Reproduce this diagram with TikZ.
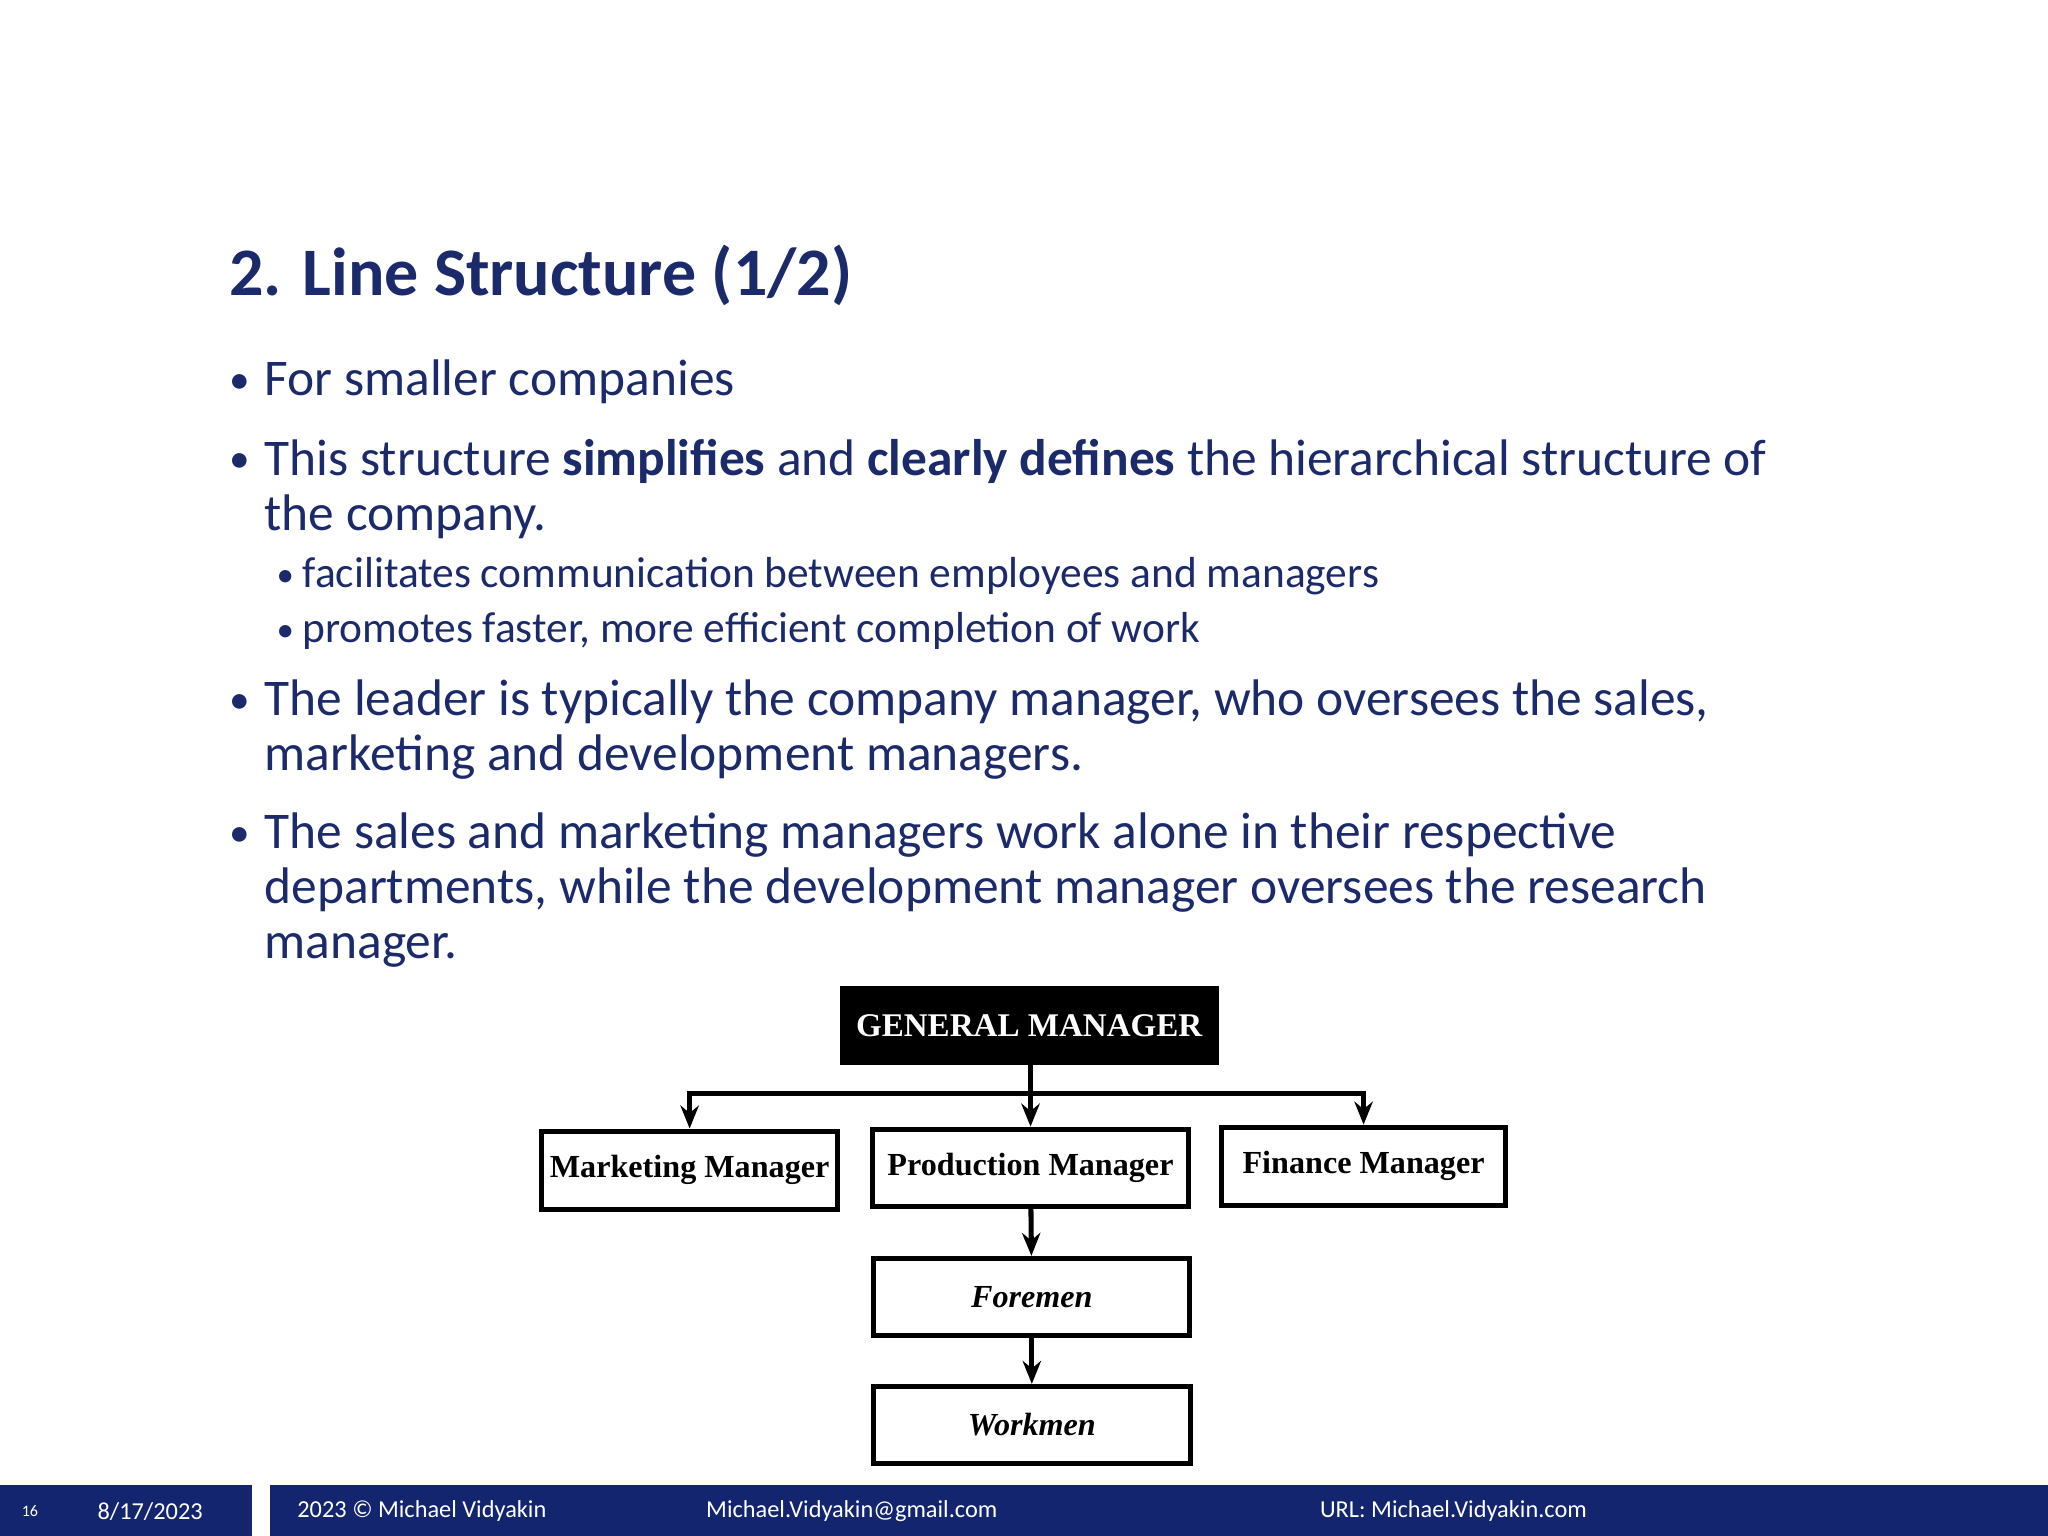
\documentclass[tikz,border=0pt]{standalone}
\usepackage{fontspec}
\setmainfont{Carlito}
\newfontfamily\tms{Liberation Serif}
\usetikzlibrary{arrows.meta}
\definecolor{navy}{HTML}{1B2A6B}
\definecolor{bar}{HTML}{13256E}
\tikzset{
 txt/.style={anchor=base west,inner sep=0,text=navy,font=\fontsize{11.2pt}{12pt}\selectfont},
 bul/.style={anchor=base west,inner sep=0,text=navy,font=\fontsize{9pt}{10pt}\selectfont},
 sub/.style={anchor=base west,inner sep=0,text=navy,font=\fontsize{9.45pt}{11pt}\selectfont},
 sbul/.style={anchor=base west,inner sep=0,text=navy,font=\fontsize{7.6pt}{9pt}\selectfont},
 org/.style={draw,line width=1.1pt,inner sep=0,font=\tms\bfseries\fontsize{7pt}{9pt}\selectfont},
 conn/.style={line width=1.1pt,-{Stealth[length=5pt,width=4pt]}},
 foot/.style={anchor=base west,inner sep=0,text=white,font=\fontsize{5.3pt}{6pt}\selectfont}
}
\begin{document}
\begin{tikzpicture}[x=0.01cm,y=-0.01cm]
\useasboundingbox (0,0) rectangle (1568,1176);
\node[anchor=base west,inner sep=0,text=navy,font=\bfseries\fontsize{14.8pt}{16pt}\selectfont] (title) at (175,226) {2. Line Structure (1/2)};
\node[bul] (b1) at (175,301) {•};
\node[txt] (t1) at (202,303) {For smaller companies};
\node[bul] (b2) at (175,362) {•};
\node[txt] (t2) at (202,364) {This structure \textbf{simplifies} and \textbf{clearly defines} the hierarchical structure of};
\node[txt] (t2b) at (202,406) {the company.};
\node[sbul] (s1b) at (211,449) {•};
\node[sub] (s1) at (231,450) {facilitates communication between employees and managers};
\node[sbul] (s2b) at (211,491) {•};
\node[sub] (s2) at (231,492) {promotes faster, more efficient completion of work};
\node[bul] (b3) at (175,546) {•};
\node[txt] (t3) at (202,548) {The leader is typically the company manager, who oversees the sales,};
\node[txt] (t3b) at (202,590) {marketing and development managers.};
\node[bul] (b4) at (175,648) {•};
\node[txt] (t4) at (202,650) {The sales and marketing managers work alone in their respective};
\node[txt] (t4b) at (202,692) {departments, while the development manager oversees the research};
\node[txt] (t4c) at (202,734) {manager.};
% org chart
\node[fill=black,text=white,inner sep=0,minimum width=2.90cm,minimum height=0.60cm,font=\tms\bfseries\fontsize{7.2pt}{9pt}\selectfont] (gm) at (788,785) {GENERAL MANAGER};
\node[org,minimum width=2.27cm,minimum height=0.60cm] (mm) at (528,896) {Marketing Manager};
\node[org,minimum width=2.42cm,minimum height=0.59cm] (pm) at (789,894) {Production Manager};
\node[org,minimum width=2.17cm,minimum height=0.60cm] (fm) at (1044,893) {Finance Manager};
\node[org,minimum width=2.42cm,minimum height=0.59cm,font=\tms\bfseries\itshape\fontsize{7pt}{9pt}\selectfont] (fo) at (790,993) {Foremen};
\node[org,minimum width=2.43cm,minimum height=0.59cm,font=\tms\bfseries\itshape\fontsize{7pt}{9pt}\selectfont] (wk) at (790,1091) {Workmen};
\coordinate (j) at (789,837);
\draw[line width=1.1pt] (gm.south -| j) -- (j);
\draw[conn] (j) -- (pm.north);
\draw[conn] (j) -| (mm.north);
\draw[conn] (j) -| (fm.north);
\draw[conn] (pm) -- (fo);
\draw[conn] (fo) -- (wk);
% footer
\fill[bar] (0,1137) rectangle (193,1176);
\fill[bar] (207,1137) rectangle (1568,1176);
\node[foot,font=\fontsize{3.5pt}{4pt}\selectfont] (pg) at (16,1161) {16};
\node[foot] (dt) at (74,1163) {8/17/2023};
\node[foot] (cp) at (227,1162) {2023 © Michael Vidyakin};
\node[foot] (em) at (540,1162) {Michael.Vidyakin@gmail.com};
\node[foot] (url) at (1010,1162) {URL: Michael.Vidyakin.com};
\end{tikzpicture}
\end{document}
